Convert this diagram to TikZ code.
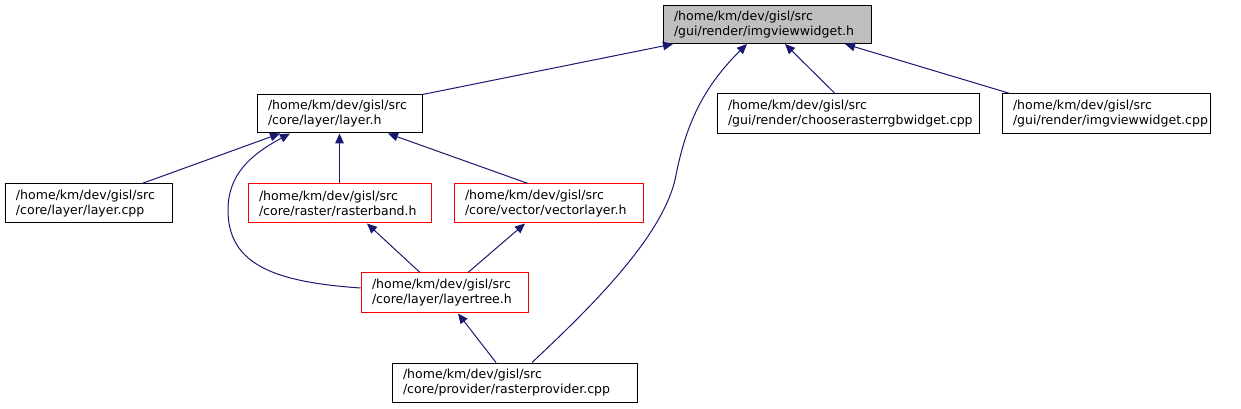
\documentclass[tikz,border=0pt]{standalone}
\usepackage{fontspec}
\setmainfont{DejaVu Sans}
\usetikzlibrary{arrows.meta}
\definecolor{edgeblue}{HTML}{191970}
\definecolor{topgray}{HTML}{BFBFBF}
\hfuzz=50pt
\begin{document}
\begin{tikzpicture}[x=0.75pt,y=-0.75pt,
  box/.style={draw=black, line width=0.75pt, align=flush left, inner xsep=0pt, inner ysep=0pt,
    font=\fontsize{9.4}{11.25}\selectfont, text=black,
    execute at begin node={\leftskip=8.25pt}},
  redbox/.style={box, draw=red},
  edge/.style={draw=edgeblue, line width=0.75pt, -{Triangle[length=7.5pt,width=6.5pt]}},
]
\useasboundingbox (0,0) rectangle (1241,409);
% nodes
\node[box, fill=topgray, text width=156pt, minimum height=28.5pt] (top) at (767,24.5) {/home/km/dev/gisl/src\\/gui/render/imgviewwidget.h};
\node[box, text width=123.75pt, minimum height=28.5pt] (layerh) at (339.5,114) {/home/km/dev/gisl/src\\/core/layer/layer.h};
\node[box, text width=196.5pt, minimum height=30pt] (chooser) at (848,114) {/home/km/dev/gisl/src\\/gui/render/chooserasterrgbwidget.cpp};
\node[box, text width=156pt, minimum height=30pt] (imgcpp) at (1106,114) {/home/km/dev/gisl/src\\/gui/render/imgviewwidget.cpp};
\node[box, text width=125.25pt, minimum height=29.25pt] (layercpp) at (88.5,203.5) {/home/km/dev/gisl/src\\/core/layer/layer.cpp};
\node[redbox, text width=137.25pt, minimum height=29.25pt] (rasterband) at (339.5,203.5) {/home/km/dev/gisl/src\\/core/raster/rasterband.h};
\node[redbox, text width=141.75pt, minimum height=29.25pt] (vectorlayer) at (548.5,203.5) {/home/km/dev/gisl/src\\/core/vector/vectorlayer.h};
\node[redbox, text width=125.25pt, minimum height=30pt] (layertree) at (444.5,293) {/home/km/dev/gisl/src\\/core/layer/layertree.h};
\node[box, text width=183.75pt, minimum height=29.25pt] (rasterprov) at (514.5,382.5) {/home/km/dev/gisl/src\\/core/provider/rasterprovider.cpp};
% edges
\draw[edge] (layerh.north east) -- (top.south -| 673,0);
\draw[edge] (rasterprov.north -| 532,0) .. controls (590,308) and (665,235) .. (676,175)
  .. controls (685,130) and (700,90) .. (top.south -| 747,0);
\draw[edge] (chooser.north -| 835,0) -- (top.south -| 785,0);
\draw[edge] (imgcpp.north -| 1010,0) -- (top.south -| 845,0);
\draw[edge] (layercpp.north -| 142,0) -- (layerh.south -| 280,0);
\draw[edge] (layertree.west |- 0,288) .. controls (275,282) and (228,265) .. (228,210)
  .. controls (228,175) and (250,155) .. (layerh.south -| 290,0);
\draw[edge] (rasterband.north) -- (layerh.south);
\draw[edge] (vectorlayer.north -| 528,0) -- (layerh.south -| 388,0);
\draw[edge] (layertree.north -| 420,0) -- (rasterband.south -| 367,0);
\draw[edge] (layertree.north -| 468,0) -- (vectorlayer.south -| 525,0);
\draw[edge] (rasterprov.north -| 496,0) -- (layertree.south -| 458,0);
\end{tikzpicture}
\end{document}
